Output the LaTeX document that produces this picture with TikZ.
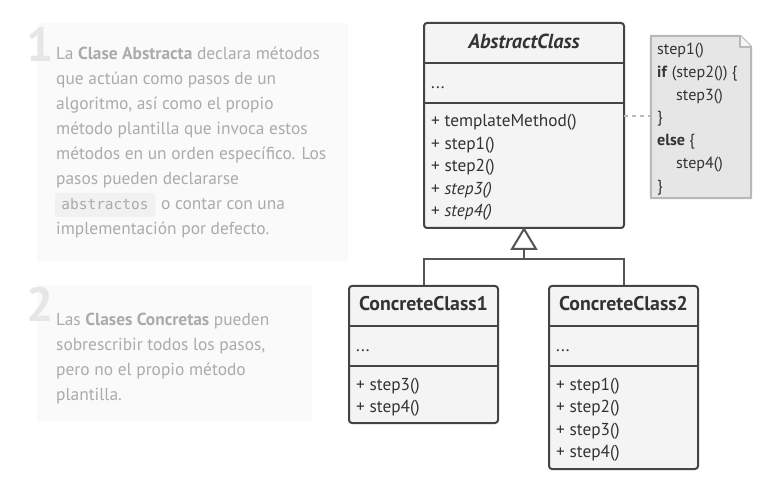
\documentclass[tikz,border=0pt]{standalone}
\usepackage{fontspec}
\setmainfont{PT Sans}
\setmonofont{DejaVu Sans Mono}
\definecolor{boxline}{HTML}{444444}
\definecolor{boxfill}{HTML}{F4F4F4}
\definecolor{boxtext}{HTML}{333333}
\definecolor{paneltext}{HTML}{ABABAB}
\definecolor{panelfill}{HTML}{FAFAFA}
\definecolor{numcol}{HTML}{E6E6E6}
\definecolor{notefill}{HTML}{E6E6E6}
\definecolor{noteline}{HTML}{B8B8B8}
\definecolor{codefill}{HTML}{F1F1F1}
\definecolor{inhline}{HTML}{555555}
\tikzset{
  umlbox/.style={draw=boxline, fill=boxfill, line width=2pt, rounded corners=3pt, inner sep=0pt},
  sepline/.style={draw=boxline, line width=2pt},
  mtext/.style={anchor=base west, inner sep=0pt, text=boxtext, font=\fontsize{17.3}{20}\selectfont},
  htext/.style={anchor=base, inner sep=0pt, text=boxtext, font=\fontsize{19.8}{22}\selectfont\bfseries},
  ntext/.style={anchor=base west, inner sep=0pt, text=boxtext, font=\fontsize{16.1}{18}\selectfont},
  ptext/.style={anchor=base west, inner sep=0pt, text=paneltext, font=\fontsize{17.4}{20}\selectfont},
  pnum/.style={anchor=base west, inner sep=0pt, text=numcol, font=\fontsize{48}{50}\selectfont\bfseries},
  panel/.style={fill=panelfill, draw=none, inner sep=0pt},
  inh/.style={draw=inhline, line width=2pt},
}
\begin{document}
\begin{tikzpicture}[x=1pt,y=-1pt]
\useasboundingbox[fill=white] (0,0) rectangle (781,502);

% ---- panel 1
\node[panel, minimum width=311pt, minimum height=239pt] (p1) at (192.5,142.5) {};
\node[pnum] (n1) at (26,62) {1};
\node[ptext] (l1a) at (56,60) {La \textbf{Clase Abstracta} declara métodos};
\node[ptext] (l1b) at (56,85) {que actúan como pasos de un};
\node[ptext] (l1c) at (56,110) {algoritmo, así como el propio};
\node[ptext] (l1d) at (56,135) {método plantilla que invoca estos};
\node[ptext] (l1e) at (56,160) {métodos en un orden específico. Los};
\node[ptext] (l1f) at (56,185) {pasos pueden declararse};
\node[fill=codefill, rounded corners=2pt, minimum width=100pt, minimum height=24pt, inner sep=0pt] (code) at (105,205) {};
\node[anchor=base, inner sep=0pt, text=paneltext, font=\ttfamily\fontsize{14.5}{16}\selectfont] (codet) at (105,210) {abstractos};
\node[ptext] (l1g) at (161,210) {o contar con una};
\node[ptext] (l1h) at (56,235) {implementación por defecto.};

% ---- panel 2
\node[panel, minimum width=275pt, minimum height=137pt] (p2) at (174.5,353.5) {};
\node[pnum] (n2) at (26,322) {2};
\node[ptext] (l2a) at (56,325) {Las \textbf{Clases Concretas} pueden};
\node[ptext] (l2b) at (56,350) {sobrescribir todos los pasos,};
\node[ptext] (l2c) at (56,375) {pero no el propio método};
\node[ptext] (l2d) at (56,400) {plantilla.};

% ---- note
\node[inner sep=0pt, minimum width=100pt, minimum height=162pt] (note) at (701,117) {};
\draw[draw=noteline, fill=notefill, line width=2pt, line join=round]
  (note.north west) -- ([xshift=-11pt]note.north east) -- ([yshift=-11pt]note.north east) -- (note.south east) -- (note.south west) -- cycle;
\draw[draw=noteline, fill=white!60!notefill, line width=1.5pt, line join=round]
  ([xshift=-11pt]note.north east) -- ([xshift=-11pt,yshift=-11pt]note.north east) -- ([yshift=-11pt]note.north east);
\node[ntext] (t1) at (657,55) {step1()};
\node[ntext] (t2) at (657,78) {\textbf{if} (step2()) \{};
\node[ntext] (t3) at (676,101) {step3()};
\node[ntext] (t4) at (657,123) {\}};
\node[ntext] (t5) at (657,146) {\textbf{else} \{};
\node[ntext] (t6) at (676,169) {step4()};
\node[ntext] (t7) at (657,192) {\}};

% ---- AbstractClass
\node[umlbox, minimum width=200pt, minimum height=205pt] (abs) at (524,125.5) {};
\draw[sepline] (424,63) -- (624,63);
\draw[sepline] (424,103) -- (624,103);
\node[htext, font=\fontsize{20.3}{22}\selectfont\bfseries\itshape] (absh) at (524,49) {AbstractClass};
\node[mtext] (absa) at (431,89) {...};
\node[mtext] (am1) at (431,127) {+ templateMethod()};
\node[mtext] (am2) at (431,150) {+ step1()};
\node[mtext] (am3) at (431,172) {+ step2()};
\node[mtext] (am4) at (431,195) {+ \textit{step3()}};
\node[mtext] (am5) at (431,217) {+ \textit{step4()}};

% dashed link to note
\coordinate (dl) at (624,116);
\coordinate (dr) at (651,116);
\draw[draw=noteline, line width=2pt, dash pattern=on 4pt off 4pt] (dl) -- (dr);

% ---- ConcreteClass1
\node[umlbox, minimum width=149pt, minimum height=137pt] (c1) at (423.5,354.5) {};
\draw[sepline] (349,326) -- (498,326);
\draw[sepline] (349,366) -- (498,366);
\node[htext] (c1h) at (423.5,311) {ConcreteClass1};
\node[mtext] (c1a) at (356,351) {...};
\node[mtext] (c1m1) at (356,390) {+ step3()};
\node[mtext] (c1m2) at (356,412) {+ step4()};

% ---- ConcreteClass2
\node[umlbox, minimum width=149pt, minimum height=183pt] (c2) at (623.5,377.5) {};
\draw[sepline] (549,326) -- (698,326);
\draw[sepline] (549,366) -- (698,366);
\node[htext] (c2h) at (623.5,311) {ConcreteClass2};
\node[mtext] (c2a) at (556,351) {...};
\node[mtext] (c2m1) at (556,390) {+ step1()};
\node[mtext] (c2m2) at (556,412) {+ step2()};
\node[mtext] (c2m3) at (556,435) {+ step3()};
\node[mtext] (c2m4) at (556,457) {+ step4()};

% ---- inheritance
\coordinate (tip) at (524,229);
\coordinate (tbase) at (524,249);
\coordinate (junc) at (524,259);
\coordinate (j1) at (424,259);
\coordinate (j2) at (624,259);
\draw[inh] (c1.north -| j1) -- (j1) -- (j2) -- (c2.north -| j2);
\draw[inh] (junc) -- (tbase);
\draw[inh, fill=white, line join=miter] (tip) -- (512,249) -- (536,249) -- cycle;
\end{tikzpicture}
\end{document}
